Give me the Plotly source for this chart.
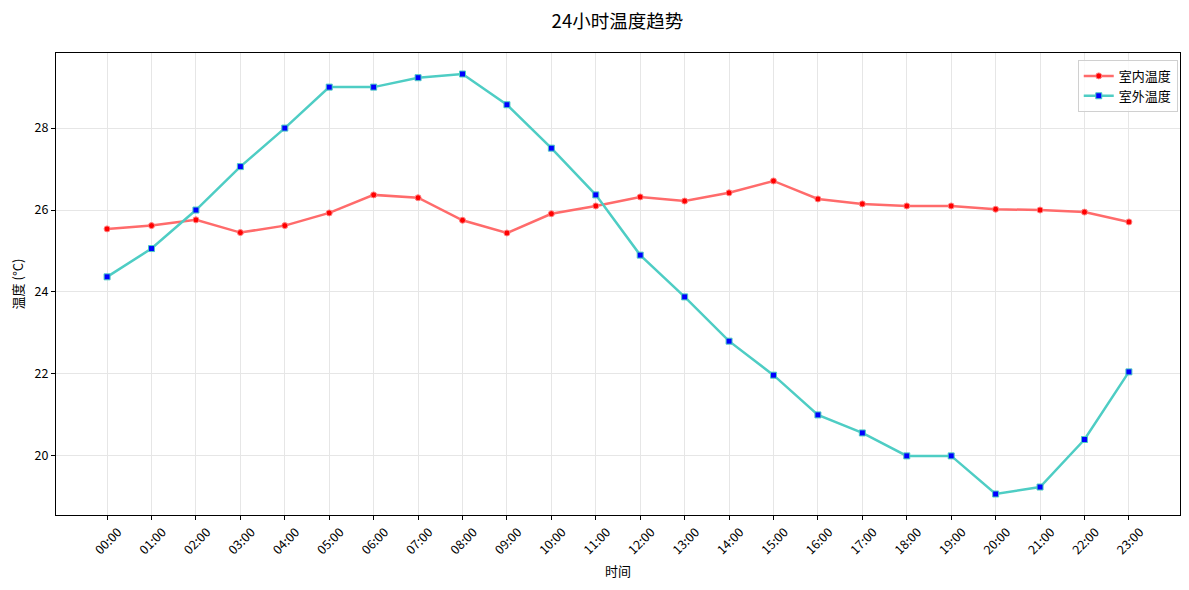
import plotly.graph_objects as go

hours = ["%02d:00" % h for h in range(24)]
indoor = [25.54, 25.62, 25.76, 25.45, 25.62, 25.93, 26.37, 26.30, 25.75, 25.44,
          25.91, 26.10, 26.32, 26.22, 26.42, 26.71, 26.27, 26.15, 26.10, 26.10,
          26.02, 26.00, 25.95, 25.71]
outdoor = [24.37, 25.06, 26.00, 27.06, 28.00, 29.00, 29.00, 29.23, 29.32, 28.57,
           27.51, 26.37, 24.90, 23.88, 22.80, 21.97, 21.00, 20.56, 20.00, 20.00,
           19.07, 19.24, 20.40, 22.05]

FONT = "Noto Sans CJK SC"
x = list(range(len(hours)))

fig = go.Figure()
fig.add_trace(go.Scatter(
    x=x, y=indoor, name="室内温度", mode="lines+markers",
    line=dict(color="#FF6B6B", width=2.5),
    marker=dict(symbol="circle", size=6, color="red",
                line=dict(color="#FF8080", width=1)),
))
fig.add_trace(go.Scatter(
    x=x, y=outdoor, name="室外温度", mode="lines+markers",
    line=dict(color="#4ECDC4", width=2.5),
    marker=dict(symbol="square", size=6, color="blue",
                line=dict(color="#4ECDC4", width=1)),
))

# matplotlib-like 5% autoscale margins
ally = indoor + outdoor
ylo, yhi = min(ally), max(ally)
ypad = (yhi - ylo) * 0.05
xpad = (len(hours) - 1) * 0.05

# page body has an 8px margin, so the figure is a bit smaller than the window
fig.update_layout(
    width=1181, height=582,
    margin=dict(l=48, r=9, t=45, b=75),
    paper_bgcolor="white", plot_bgcolor="white",
    font=dict(family=FONT, size=12, color="black"),
    title=dict(text="24小时温度趋势", x=0.516, xanchor="center",
               y=0.976, yanchor="middle", font=dict(size=18.5, family=FONT)),
    showlegend=True,
    legend=dict(x=0.998, y=0.985, xanchor="right", yanchor="top",
                bgcolor="rgba(255,255,255,0.8)", bordercolor="#d0d0d0",
                borderwidth=1, font=dict(size=13, family=FONT),
                itemwidth=30, tracegroupgap=2),
)
fig.update_xaxes(
    range=[-xpad, len(hours) - 1 + xpad],
    tickvals=x, ticktext=hours, tickangle=-45, ticklabelshift=11,
    tickfont=dict(size=12.5),
    showline=True, linecolor="black", linewidth=1, mirror=True,
    ticks="outside", ticklen=4, tickcolor="black",
    showgrid=True, gridcolor="#e6e6e6", gridwidth=1, zeroline=False,
    automargin=False,
    title=dict(text="时间", font=dict(size=13), standoff=9),
)
fig.update_yaxes(
    range=[ylo - ypad, yhi + ypad], dtick=2, tick0=20,
    tickfont=dict(size=12.5),
    showline=True, linecolor="black", linewidth=1, mirror=True,
    ticks="outside", ticklen=4, tickcolor="black",
    showgrid=True, gridcolor="#e6e6e6", gridwidth=1, zeroline=False,
    automargin=False,
    title=dict(text="温度 (°C)", font=dict(size=13), standoff=14),
)

fig.write_html("out.html")
